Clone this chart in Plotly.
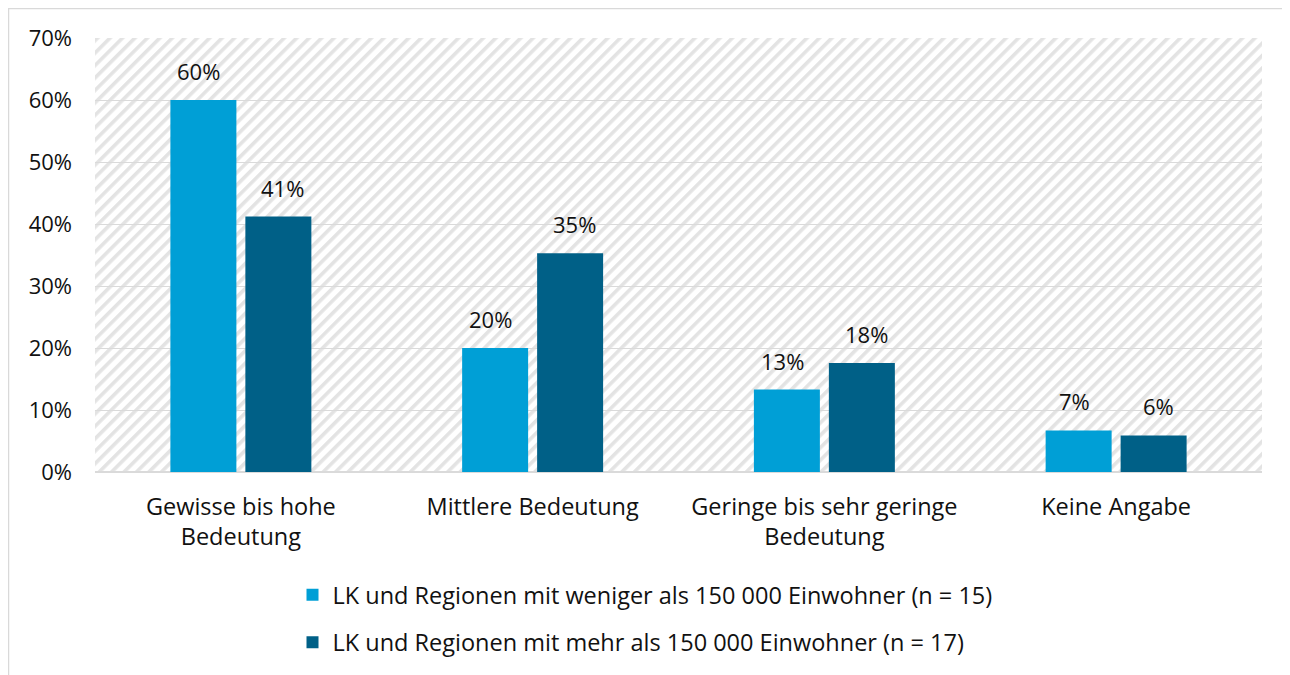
import plotly.graph_objects as go
import base64

categories = ["Gewisse bis hohe<br>Bedeutung", "Mittlere Bedeutung",
              "Geringe bis sehr geringe<br>Bedeutung", "Keine Angabe"]
series_names = ["LK und Regionen mit weniger als 150 000 Einwohner (n = 15)",
                "LK und Regionen mit mehr als 150 000 Einwohner (n = 17)"]
small_values = [60.0, 20.0, 13.3, 6.7]
large_values = [41.2, 35.3, 17.6, 5.9]
y_ticks = [0, 10, 20, 30, 40, 50, 60, 70]
y_tick_labels = [f"{t}%" for t in y_ticks]

colors = ["#009FD6", "#006087"]
FONT = "Open Sans"
TXT = "#111111"
W, H = 1290, 675
OFF = 8  # page body margin
ML, MT = 95 - OFF, 38 - OFF
MR = W - (1262 - OFF)
MB = H - (472 - OFF)
PW, PH = W - ML - MR, H - MT - MB

# hatch background as an svg image
svg = f'''<svg xmlns="http://www.w3.org/2000/svg" width="{PW}" height="{PH}" viewBox="0 0 {PW} {PH}" preserveAspectRatio="none">
<defs><pattern id="h" patternUnits="userSpaceOnUse" width="8.8" height="8.8" patternTransform="rotate(45)">
<rect x="0" y="0" width="3.6" height="8.8" fill="#e3e3e3"/></pattern></defs>
<rect width="{PW}" height="{PH}" fill="#ffffff"/>
<rect width="{PW}" height="{PH}" fill="url(#h)"/></svg>'''
uri = "data:image/svg+xml;base64," + base64.b64encode(svg.encode()).decode()

fig = go.Figure()
for i, (name, vals) in enumerate([(series_names[0], small_values), (series_names[1], large_values)]):
    fig.add_trace(go.Bar(
        x=categories, y=vals, name=name, marker_color=colors[i],
        marker_line_width=0, legendgroup=f"g{i}", hoverinfo="skip",
    ))

# data labels
annotations = []
for i, vals in enumerate([small_values, large_values]):
    shift = -42 if i == 0 else 42
    for c, v in zip(categories, vals):
        annotations.append(dict(
            x=c, y=v, xref="x", yref="y", text=f"{round(v):.0f}%",
            showarrow=False, xshift=shift, yshift=12, yanchor="bottom",
            font=dict(family=FONT, size=22, color=TXT),
        ))

fig.update_layout(
    width=W, height=H,
    margin=dict(l=ML, r=MR, t=MT, b=MB, autoexpand=False),
    paper_bgcolor="white", plot_bgcolor="rgba(0,0,0,0)",
    barmode="group", bargap=0.486, bargroupgap=0.12,
    font=dict(family=FONT, size=23, color=TXT),
    showlegend=True,
    legend=dict(
        orientation="v", x=(645 - OFF - ML) / PW, xanchor="center",
        y=(H - MB - 565) / PH, yanchor="top",
        font=dict(family=FONT, size=23.5, color=TXT),
        tracegroupgap=14, traceorder="grouped", bgcolor="rgba(0,0,0,0)",
    ),
    annotations=annotations,
    images=[dict(source=uri, xref="paper", yref="paper", x=0, y=1,
                 sizex=1, sizey=1, sizing="stretch", layer="below",
                 xanchor="left", yanchor="top")],
    shapes=[dict(type="rect", xref="paper", yref="paper",
                 x0=-(ML - 0.5) / PW, x1=1.2, y0=-0.6, y1=1 + (MT - 0.5) / PH,
                 line=dict(color="#d9d9d9", width=1.5), fillcolor="rgba(0,0,0,0)",
                 layer="below")],
)
fig.update_xaxes(showgrid=False, showline=False, ticks="", ticklabelstandoff=18,
                 tickangle=0, automargin=False,
                 tickfont=dict(family=FONT, size=23.5, color=TXT))
fig.update_yaxes(range=[0, 70], tickvals=y_ticks, ticktext=y_tick_labels,
                 showgrid=True, gridcolor="#dadada", gridwidth=1.3,
                 zeroline=True, zerolinecolor="#dadada", zerolinewidth=1.5,
                 showline=False, ticks="", ticklabelstandoff=22, automargin=False,
                 tickfont=dict(family=FONT, size=22, color=TXT))

fig.write_html("out.html")
